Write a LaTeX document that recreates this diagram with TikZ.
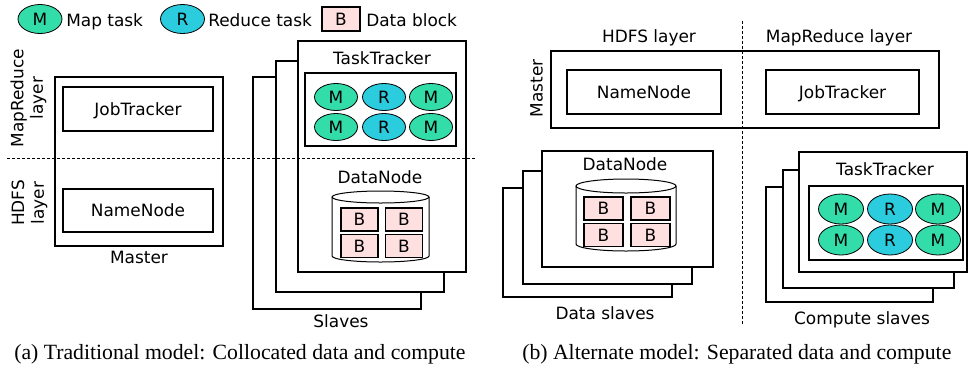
\documentclass[tikz,border=0pt]{standalone}
\usepackage{fontspec}
\setmainfont{DejaVu Sans}
\newfontfamily\capfont{Liberation Serif}
\usepackage{tikz}
\usetikzlibrary{shapes.geometric}
\usepackage{xcolor}
\definecolor{MapGreen}{HTML}{33DDAA}
\definecolor{ReduceCyan}{HTML}{2ACCDD}
\definecolor{BlockPink}{HTML}{FFE0E0}
\tikzset{
  box/.style={draw,line width=0.9pt,fill=white},
  lbl/.style={inner sep=0pt,text height=9.26pt,text depth=0pt},
  srvbox/.style={lbl,draw,line width=0.9pt,fill=white},
  maptask/.style={lbl,ellipse,draw,line width=0.6pt,fill=MapGreen,minimum width=32.25pt,minimum height=20.25pt},
  reducetask/.style={maptask,fill=ReduceCyan},
  datablk/.style={lbl,draw,line width=0.9pt,fill=BlockPink,minimum width=27.75pt,minimum height=17.25pt},
  layerlbl/.style={inner sep=0pt,rotate=90,align=center,font=\fontsize{12.7}{14.7}\selectfont},
  layersep/.style={line width=0.75pt,dash pattern=on 2.25pt off 1.5pt}
}

\begin{document}
\begin{tikzpicture}[x=0.75pt,y=-0.75pt,font=\fontsize{12.7}{15}\selectfont]
    \useasboundingbox (0,0) rectangle (969,369);

    % legend
    \node[maptask,minimum width=33pt,minimum height=21.75pt] (legmap) at (40,19) {M};
    \node[lbl,anchor=west] (legmaptxt) at (66,20.3) {Map task};
    \node[reducetask,minimum width=33pt,minimum height=21.75pt] (legred) at (182.5,19) {R};
    \node[lbl,anchor=west] (legredtxt) at (208,20.3) {Reduce task};
    \node[datablk,minimum width=28.5pt,minimum height=18pt] (legblk) at (341,19) {B};
    \node[lbl,anchor=west] (legblktxt) at (366,20.3) {Data block};

    % (a) master
    \draw[box] (55,77) rectangle (223,246);
    \node[srvbox,minimum width=112.5pt,minimum height=33pt] (jtA) at (138,109) {JobTracker};
    \node[srvbox,minimum width=112.5pt,minimum height=32.25pt] (nnA) at (138,210.5) {NameNode};
    \node[lbl] (masterA) at (139,257) {Master};
    \node[layerlbl] (mrlayerA) at (28.5,98) {MapReduce\\layer};
    \node[layerlbl] (hdfslayerA) at (29.5,203) {HDFS\\layer};

    % (a) slaves
    \draw[box] (253,77) rectangle (421,309);
    \draw[box] (276,61) rectangle (444,292);
    \draw[box] (298,41) rectangle (466,272);
    \node[lbl] (slavesA) at (341,321) {Slaves};

    \node[lbl] (ttA) at (382,58) {TaskTracker};
    \draw[line width=0.9pt] (305,73) rectangle (456,146);
    \node[maptask] (am1) at (336,97) {M};
    \node[reducetask] (ar1) at (384,97) {R};
    \node[maptask] (am2) at (431,97) {M};
    \node[maptask] (am3) at (336,127) {M};
    \node[reducetask] (ar2) at (384,127) {R};
    \node[maptask] (am4) at (431,127) {M};

    \node[lbl] (dnA) at (380,177.5) {DataNode};
    \draw[line width=0.75pt] (332,197) -- (332,256) arc[start angle=180,end angle=360,x radius=36.375pt,y radius=4.5pt] -- (429,197);
    \draw[line width=0.75pt] (380.5,197) ellipse[x radius=36.375pt,y radius=4.5pt];
    \node[datablk] (ab1) at (359.5,219.5) {B};
    \node[datablk] (ab2) at (404,219.5) {B};
    \node[datablk] (ab3) at (359.5,246) {B};
    \node[datablk] (ab4) at (404,246) {B};

    \draw[layersep] (7,158) -- (476,158);

    % (b) master
    \node[lbl] (hdfslayerB) at (649,36.3) {HDFS layer};
    \node[lbl] (mrlayerB) at (839,36.3) {MapReduce layer};
    \draw[box] (551,51) rectangle (939,128);
    \node[lbl,rotate=90] (masterB) at (536.5,88.3) {Master};
    \node[srvbox,minimum width=115.5pt,minimum height=33pt] (nnB) at (644,92) {NameNode};
    \node[srvbox,minimum width=114.75pt,minimum height=33pt] (jtB) at (842.5,92) {JobTracker};

    % (b) data slaves
    \draw[box] (503,188) rectangle (672,297);
    \draw[box] (523,171) rectangle (692,284);
    \draw[box] (542,151) rectangle (713,267);
    \node[lbl] (dslavesB) at (605,313) {Data slaves};
    \node[lbl] (dnB) at (625,164.5) {DataNode};
    \draw[line width=0.75pt] (576,186) -- (576,244) arc[start angle=180,end angle=360,x radius=37.5pt,y radius=5.25pt] -- (676,186);
    \draw[line width=0.75pt] (626,186) ellipse[x radius=37.5pt,y radius=5.25pt];
    \node[datablk,minimum width=29.25pt] (bb1) at (603.5,208.5) {B};
    \node[datablk,minimum width=29.25pt] (bb2) at (650.5,208.5) {B};
    \node[datablk,minimum width=29.25pt] (bb3) at (603.5,235) {B};
    \node[datablk,minimum width=29.25pt] (bb4) at (650.5,235) {B};

    % (b) compute slaves
    \draw[box] (766,187) rectangle (933,302);
    \draw[box] (783,170) rectangle (954,288);
    \draw[box] (799,152) rectangle (967,272);
    \node[lbl] (cslavesB) at (862,318) {Compute slaves};
    \node[lbl] (ttB) at (885,169.7) {TaskTracker};
    \draw[line width=0.9pt] (809,186) rectangle (963,260);
    \node[maptask,minimum width=33.75pt,minimum height=22.5pt] (bm1) at (841,209) {M};
    \node[reducetask,minimum width=33.75pt,minimum height=22.5pt] (br1) at (890,209) {R};
    \node[maptask,minimum width=33.75pt,minimum height=22.5pt] (bm2) at (938,209) {M};
    \node[maptask,minimum width=33.75pt,minimum height=22.5pt] (bm3) at (841,240) {M};
    \node[reducetask,minimum width=33.75pt,minimum height=22.5pt] (br2) at (890,240) {R};
    \node[maptask,minimum width=33.75pt,minimum height=22.5pt] (bm4) at (938,240) {M};

    \draw[layersep] (742,21) -- (742,325);

    % captions
    \node[anchor=base west,inner sep=0pt,font=\capfont\fontsize{16.3}{19}\selectfont] (capA) at (14,359) {(a) Traditional model: Collocated data and compute};
    \node[anchor=base west,inner sep=0pt,font=\capfont\fontsize{16.3}{19}\selectfont] (capB) at (522,359) {(b) Alternate model: Separated data and compute};
\end{tikzpicture}
\end{document}
